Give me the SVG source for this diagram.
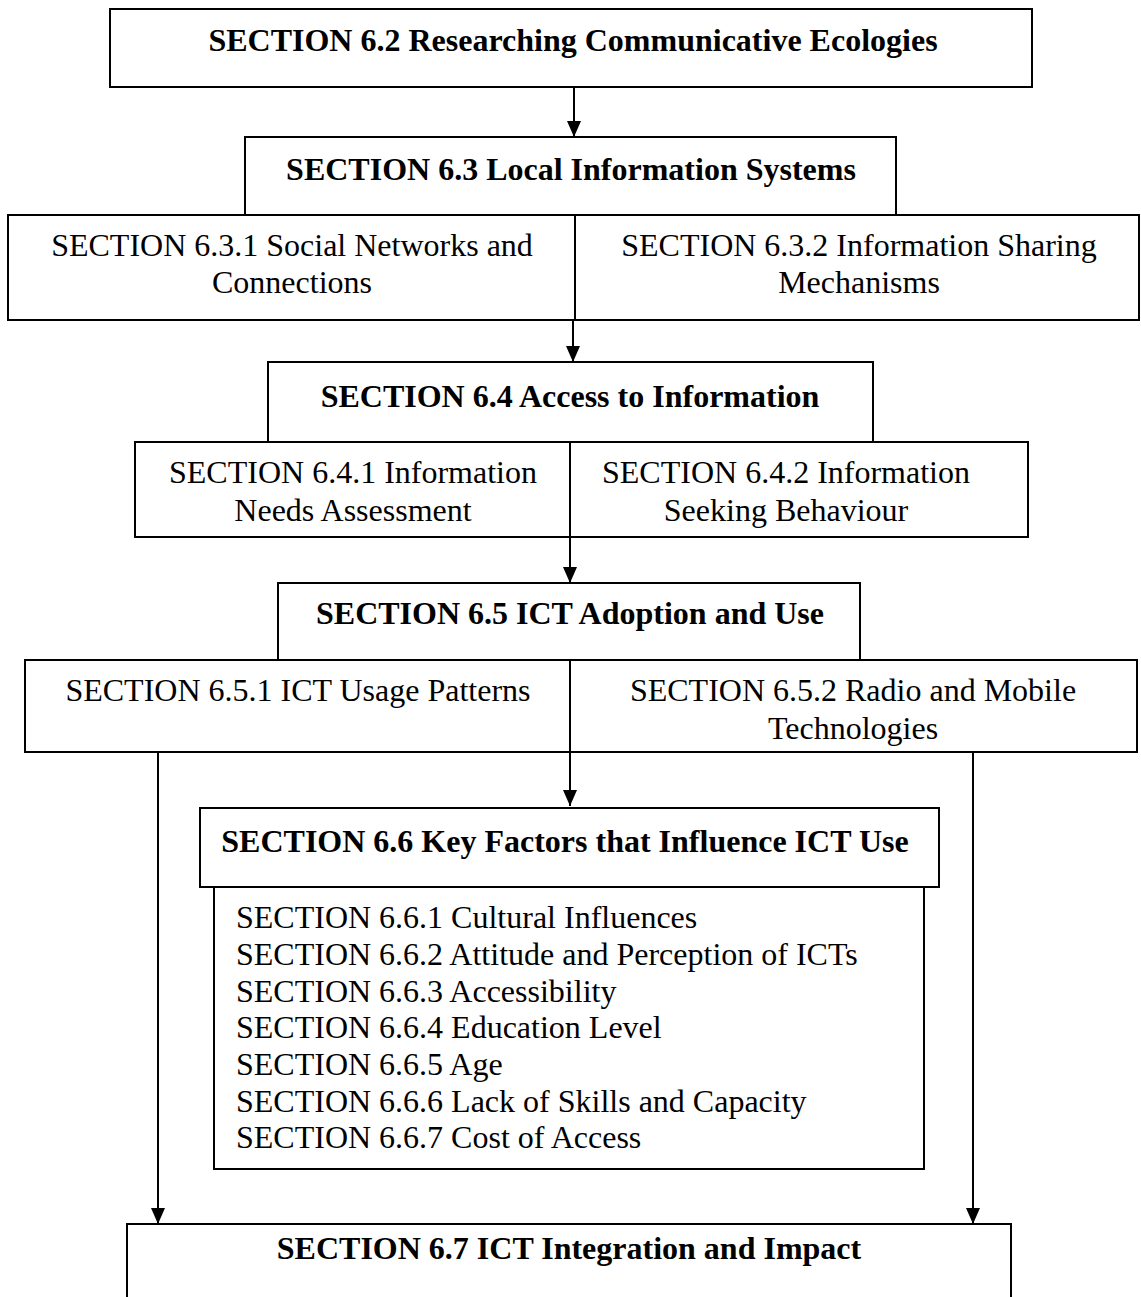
<svg xmlns="http://www.w3.org/2000/svg" width="1141" height="1297" viewBox="0 0 1141 1297">
  <style>
    .box { fill: #ffffff; stroke: #000000; stroke-width: 2; }
    .t { font-family: "Liberation Serif", "Times New Roman", serif; font-size: 32px; fill: #000000; }
    .b { font-weight: bold; }
    .c { text-anchor: middle; }
    .wire { stroke: #000000; stroke-width: 2; fill: none; marker-end: url(#head); }
  </style>
  <defs>
    <marker id="head" markerUnits="userSpaceOnUse" markerWidth="16" markerHeight="14" refX="16" refY="7" orient="auto">
      <path d="M0,0 L16,7 L0,14 z" fill="#000000"/>
    </marker>
  </defs>
  <rect width="1141" height="1297" fill="#ffffff"/>

  <!-- Section boxes -->
  <g id="s6_2">
    <rect class="box" x="110" y="9" width="922" height="78"/>
    <text class="t b c" x="573" y="51">SECTION 6.2 Researching Communicative Ecologies</text>
  </g>
  <g id="s6_3">
    <rect class="box" x="245" y="137" width="651" height="78"/>
    <text class="t b c" x="571" y="180">SECTION 6.3 Local Information Systems</text>
  </g>
  <g id="s6_3_1">
    <rect class="box" x="8" y="215" width="567" height="105"/>
    <text class="t c" x="292" y="256">SECTION 6.3.1 Social Networks and</text>
    <text class="t c" x="292" y="293">Connections</text>
  </g>
  <g id="s6_3_2">
    <rect class="box" x="575" y="215" width="564" height="105"/>
    <text class="t c" x="859" y="256">SECTION 6.3.2 Information Sharing</text>
    <text class="t c" x="859" y="293">Mechanisms</text>
  </g>
  <g id="s6_4">
    <rect class="box" x="268" y="362" width="605" height="80"/>
    <text class="t b c" x="570" y="407">SECTION 6.4 Access to Information</text>
  </g>
  <g id="s6_4_1">
    <rect class="box" x="135" y="442" width="435" height="95"/>
    <text class="t c" x="353" y="483">SECTION 6.4.1 Information</text>
    <text class="t c" x="353" y="521">Needs Assessment</text>
  </g>
  <g id="s6_4_2">
    <rect class="box" x="570" y="442" width="458" height="95"/>
    <text class="t c" x="786" y="483">SECTION 6.4.2 Information</text>
    <text class="t c" x="786" y="521">Seeking Behaviour</text>
  </g>
  <g id="s6_5">
    <rect class="box" x="278" y="583" width="582" height="77"/>
    <text class="t b c" x="570" y="624">SECTION 6.5 ICT Adoption and Use</text>
  </g>
  <g id="s6_5_1">
    <rect class="box" x="25" y="660" width="545" height="92"/>
    <text class="t c" x="298" y="701">SECTION 6.5.1 ICT Usage Patterns</text>
  </g>
  <g id="s6_5_2">
    <rect class="box" x="570" y="660" width="567" height="92"/>
    <text class="t c" x="853" y="701">SECTION 6.5.2 Radio and Mobile</text>
    <text class="t c" x="853" y="739">Technologies</text>
  </g>
  <g id="s6_6">
    <rect class="box" x="200" y="808" width="739" height="79"/>
    <text class="t b c" x="565" y="852">SECTION 6.6 Key Factors that Influence ICT Use</text>
  </g>
  <g id="s6_6_list">
    <rect class="box" x="214" y="887" width="710" height="282"/>
    <text class="t" x="236" y="928">SECTION 6.6.1 Cultural Influences</text>
    <text class="t" x="236" y="965">SECTION 6.6.2 Attitude and Perception of ICTs</text>
    <text class="t" x="236" y="1002">SECTION 6.6.3 Accessibility</text>
    <text class="t" x="236" y="1038">SECTION 6.6.4 Education Level</text>
    <text class="t" x="236" y="1075">SECTION 6.6.5 Age</text>
    <text class="t" x="236" y="1112">SECTION 6.6.6 Lack of Skills and Capacity</text>
    <text class="t" x="236" y="1148">SECTION 6.6.7 Cost of Access</text>
  </g>
  <g id="s6_7">
    <rect class="box" x="127" y="1224" width="884" height="90"/>
    <text class="t b c" x="569" y="1259">SECTION 6.7 ICT Integration and Impact</text>
  </g>

  <!-- Connectors -->
  <g id="connectors">
    <line class="wire" x1="574" y1="87" x2="574" y2="137"/>
    <line class="wire" x1="573" y1="320" x2="573" y2="362"/>
    <line class="wire" x1="570" y1="537" x2="570" y2="583"/>
    <line class="wire" x1="570" y1="752" x2="570" y2="806"/>
    <line class="wire" x1="158" y1="752" x2="158" y2="1224"/>
    <line class="wire" x1="973" y1="752" x2="973" y2="1224"/>
  </g>
</svg>
